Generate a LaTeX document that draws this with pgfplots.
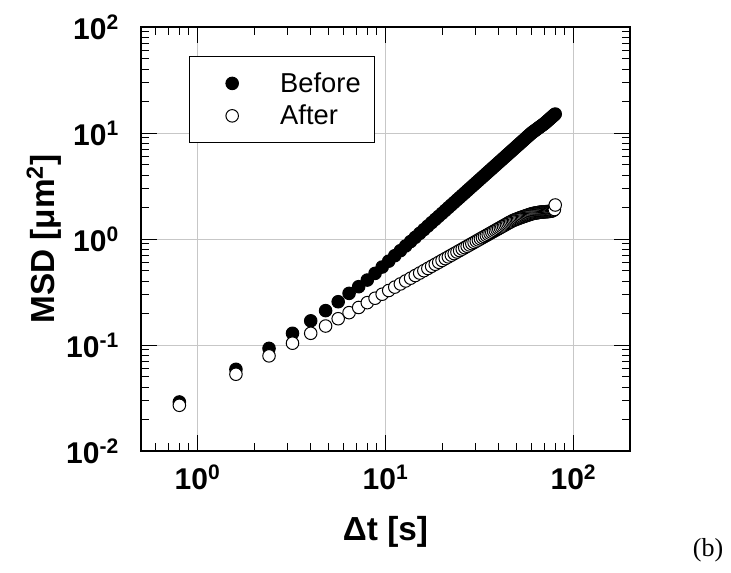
\documentclass[border=0pt]{standalone}
\usepackage{pgfplots}
\pgfplotsset{compat=1.18}
\usepackage{fontspec}
\setmainfont{Liberation Sans}
\newfontfamily\timesfont{Liberation Serif}

\pgfplotstableread{
t y
0.8 0.029
1.6 0.059
2.4 0.093
3.2 0.129
4.0 0.169
4.8 0.211
5.6 0.256
6.4 0.307
7.2 0.355
8.0 0.410
8.8 0.474
9.6 0.544
10.4 0.618
11.2 0.696
12.0 0.776
12.8 0.860
13.6 0.947
14.4 1.037
15.2 1.130
16.0 1.226
16.8 1.325
17.6 1.427
18.4 1.532
19.2 1.639
20.0 1.748
20.8 1.861
21.6 1.976
22.4 2.094
23.2 2.214
24.0 2.337
24.8 2.462
25.6 2.589
26.4 2.719
27.2 2.852
28.0 2.986
28.8 3.122
29.6 3.261
30.4 3.403
31.2 3.547
32.0 3.692
32.8 3.840
33.6 3.990
34.4 4.142
35.2 4.296
36.0 4.452
36.8 4.611
37.6 4.771
38.4 4.934
39.2 5.098
40.0 5.265
40.8 5.433
41.6 5.603
42.4 5.776
43.2 5.950
44.0 6.126
44.8 6.304
45.6 6.483
46.4 6.667
47.2 6.850
48.0 7.036
48.8 7.223
49.6 7.412
50.4 7.603
51.2 7.795
52.0 7.989
52.8 8.186
53.6 8.384
54.4 8.585
55.2 8.787
56.0 8.990
56.8 9.194
57.6 9.402
58.4 9.610
59.2 9.820
60.0 10.03
60.8 10.20
61.6 10.38
62.4 10.55
63.2 10.73
64.0 10.91
64.8 11.09
65.6 11.27
66.4 11.44
67.2 11.62
68.0 11.80
68.8 11.98
69.6 12.16
70.4 12.35
71.2 12.57
72.0 12.79
72.8 13.02
73.6 13.24
74.4 13.47
75.2 13.70
76.0 13.93
76.8 14.16
77.6 14.39
78.4 14.63
79.2 14.86
80.0 15.10
}\before

\pgfplotstableread{
t y
0.8 0.027
1.6 0.053
2.4 0.079
3.2 0.104
4.0 0.129
4.8 0.151
5.6 0.177
6.4 0.202
7.2 0.226
8.0 0.251
8.8 0.2763
9.6 0.3014
10.4 0.3266
11.2 0.3517
12.0 0.3768
12.8 0.4019
13.6 0.4270
14.4 0.4522
15.2 0.4773
16.0 0.5024
16.8 0.5275
17.6 0.5526
18.4 0.5778
19.2 0.6029
20.0 0.6280
20.8 0.6531
21.6 0.6782
22.4 0.7034
23.2 0.7285
24.0 0.7536
24.8 0.7787
25.6 0.8038
26.4 0.8290
27.2 0.8541
28.0 0.8792
28.8 0.9043
29.6 0.9294
30.4 0.9546
31.2 0.9797
32.0 1.0048
32.8 1.0299
33.6 1.0550
34.4 1.0802
35.2 1.1053
36.0 1.1304
36.8 1.1555
37.6 1.1806
38.4 1.2058
39.2 1.2309
40.0 1.2560
40.8 1.2811
41.6 1.3062
42.4 1.3314
43.2 1.3565
44.0 1.3816
44.8 1.407
45.6 1.432
46.4 1.455
47.2 1.479
48.0 1.500
48.8 1.518
49.6 1.535
50.4 1.552
51.2 1.569
52.0 1.585
52.8 1.600
53.6 1.615
54.4 1.631
55.2 1.645
56.0 1.660
56.8 1.674
57.6 1.688
58.4 1.702
59.2 1.716
60.0 1.730
60.8 1.739
61.6 1.748
62.4 1.756
63.2 1.764
64.0 1.770
64.8 1.776
65.6 1.782
66.4 1.788
67.2 1.793
68.0 1.798
68.8 1.801
69.6 1.804
70.4 1.806
71.2 1.809
72.0 1.811
72.8 1.815
73.6 1.818
74.4 1.822
75.2 1.826
76.0 1.830
76.8 1.841
77.6 1.854
78.4 1.871
79.2 1.897
80.0 2.094
}\after

\begin{document}
\begin{tikzpicture}
\useasboundingbox (0pt,0pt) rectangle (548.25pt,429pt);
\begin{axis}[
  at={(105.75pt,90.75pt)}, anchor=south west,
  scale only axis, width=366.75pt, height=318pt,
  xmode=log, ymode=log,
  xmin=0.5, xmax=200, ymin=0.01, ymax=100,
  xtick={1,10,100},
  xticklabels={10\textsuperscript{0},10\textsuperscript{1},10\textsuperscript{2}},
  ytick={0.01,0.1,1,10,100},
  yticklabels={10\textsuperscript{-2},10\textsuperscript{-1},10\textsuperscript{0},10\textsuperscript{1},10\textsuperscript{2}},
  minor xtick={0.6,0.7,0.8,0.9,2,3,4,5,6,7,8,9,20,30,40,50,60,70,80,90},
  minor ytick={0.02,0.03,0.04,0.05,0.06,0.07,0.08,0.09,0.2,0.3,0.4,0.5,0.6,0.7,0.8,0.9,2,3,4,5,6,7,8,9,20,30,40,50,60,70,80,90},
  tick align=inside, xtick pos=both, ytick pos=both,
  major tick length=12pt, minor tick length=6pt,
  tick style={black, line width=0.75pt},
  axis line style={line width=1pt},
  grid=major,
  major grid style={draw=black!22, line width=0.75pt},
  tick label style={font=\fontsize{22.5}{26}\selectfont\bfseries},
  xticklabel style={yshift=-7pt},
  yticklabel style={xshift=-13pt},
  xlabel={Δt [s]},
  ylabel={MSD [μm\textsuperscript{2}]},
  label style={font=\fontsize{25}{30}\selectfont\bfseries},
  xlabel style={at={(axis description cs:0.5,-0.191)}, anchor=center},
  ylabel style={at={(axis description cs:-0.198,0.5)}, anchor=center},
  legend image code/.code={\path[draw=none,fill=none] (0pt,0pt) -- (58pt,0pt); \draw[#1, only marks] plot coordinates {(22pt,0pt)};},
  legend style={at={(0.0982,0.9316)}, anchor=north west, draw=black, line width=0.75pt, fill=white,
    font=\fontsize{20.5}{24}\selectfont, inner xsep=10pt, inner ysep=12pt, row sep=8pt,
    nodes={inner sep=0pt}},
  legend cell align=left,
]
\addplot[only marks, mark=*, mark size=4.7pt, mark options={fill=black, draw=black, line width=0.75pt}] table {\before};
\addplot[only marks, mark=*, mark size=4.7pt, mark options={fill=white, draw=black, line width=0.75pt}] table {\after};
\legend{Before, After}
\end{axis}
\node[font=\timesfont\fontsize{19.5}{23}\selectfont] at (531pt,16.5pt) {(b)};
\end{tikzpicture}
\end{document}
